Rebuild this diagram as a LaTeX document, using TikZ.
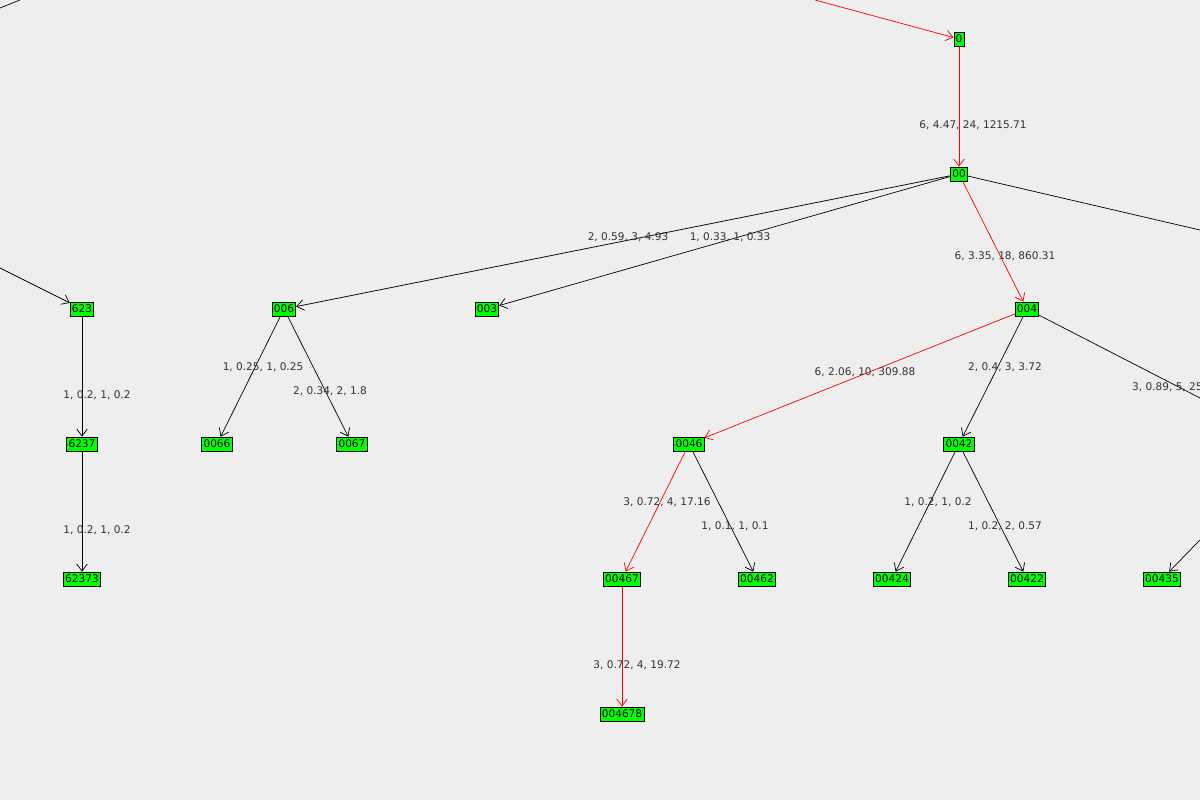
\documentclass[tikz,border=0pt]{standalone}
\usepackage{fontspec}
\setmainfont{DejaVu Sans}
\usetikzlibrary{arrows.meta}
\definecolor{bgray}{HTML}{EEEEEE}
\definecolor{ngreen}{HTML}{00FF00}
\definecolor{pathred}{HTML}{FF0000}
\tikzset{
  vert/.style={draw=black,fill=ngreen,font=\fontsize{6}{7}\selectfont,inner sep=1pt,minimum height=0.28cm},
  edge/.style={-{Straight Barb[length=4pt,width=6pt]},draw=black},
  redpath/.style={-{Straight Barb[length=4pt,width=6pt]},draw=pathred},
  lab/.style={font=\fontsize{6}{7}\selectfont,text=black!80}
}
\begin{document}
\begin{tikzpicture}[x=0.02cm,y=-0.02cm]
\fill[bgray] (0,0) rectangle (1200,800);
\useasboundingbox (0,0) rectangle (1200,800);
% vertices
\node[vert] (n0) at (959,39) {0};
\node[vert] (n00) at (959,174) {00};
\node[vert] (n623) at (82,309) {623};
\node[vert] (n006) at (284,309) {006};
\node[vert] (n003) at (487,309) {003};
\node[vert] (n004) at (1027,309) {004};
\node[vert] (n6237) at (82,444) {6237};
\node[vert] (n0066) at (217,444) {0066};
\node[vert] (n0067) at (352,444) {0067};
\node[vert] (n0046) at (689,444) {0046};
\node[vert] (n0042) at (959,444) {0042};
\node[vert] (n62373) at (82,579) {62373};
\node[vert] (n00467) at (622,579) {00467};
\node[vert] (n00462) at (757,579) {00462};
\node[vert] (n00424) at (892,579) {00424};
\node[vert] (n00422) at (1027,579) {00422};
\node[vert] (n00435) at (1162,579) {00435};
\node[vert] (n004678) at (622,714) {004678};
% free ends
\coordinate (top) at (815,0);
\coordinate (tl1) at (0,8);
\coordinate (tl2) at (20,0);
\coordinate (left) at (0,268);
\coordinate (r00) at (1200,230);
\coordinate (r004) at (1200,398);
\coordinate (r435) at (1200,540);
% edges
\draw[redpath] (top) -- (n0);
\draw (tl1) -- (tl2);
\draw[edge] (left) -- (n623);
\draw[redpath] (n0) -- (n00);
\draw (n00) -- (r00);
\draw[edge] (n00) -- (n006);
\draw[edge] (n00) -- (n003);
\draw[redpath] (n00) -- (n004);
\draw (n004) -- (r004);
\draw[edge] (n623) -- (n6237);
\draw[edge] (n6237) -- (n62373);
\draw[edge] (n006) -- (n0066);
\draw[edge] (n006) -- (n0067);
\draw[redpath] (n004) -- (n0046);
\draw[edge] (n004) -- (n0042);
\draw[redpath] (n0046) -- (n00467);
\draw[edge] (n0046) -- (n00462);
\draw[edge] (n0042) -- (n00424);
\draw[edge] (n0042) -- (n00422);
\draw[edge] (r435) -- (n00435);
\draw[redpath] (n00467) -- (n004678);
% labels
\node[lab] at (973,125) {6, 4.47, 24, 1215.71};
\node[lab] at (628,237) {2, 0.59, 3, 4.93};
\node[lab] at (730,237) {1, 0.33, 1, 0.33};
\node[lab] at (1005,256) {6, 3.35, 18, 860.31};
\node[lab] at (97,395) {1, 0.2, 1, 0.2};
\node[lab] at (97,530) {1, 0.2, 1, 0.2};
\node[lab] at (263,367) {1, 0.25, 1, 0.25};
\node[lab] at (330,391) {2, 0.34, 2, 1.8};
\node[lab] at (865,372) {6, 2.06, 10, 309.88};
\node[lab] at (1005,367) {2, 0.4, 3, 3.72};
\node[lab,anchor=west] at (1126,387) {3, 0.89, 5, 25.};
\node[lab] at (667,502) {3, 0.72, 4, 17.16};
\node[lab] at (735,526) {1, 0.1, 1, 0.1};
\node[lab] at (938,502) {1, 0.2, 1, 0.2};
\node[lab] at (1005,526) {1, 0.2, 2, 0.57};
\node[lab] at (637,665) {3, 0.72, 4, 19.72};
\node[lab,anchor=east] at (3,664) {5};
\end{tikzpicture}
\end{document}
